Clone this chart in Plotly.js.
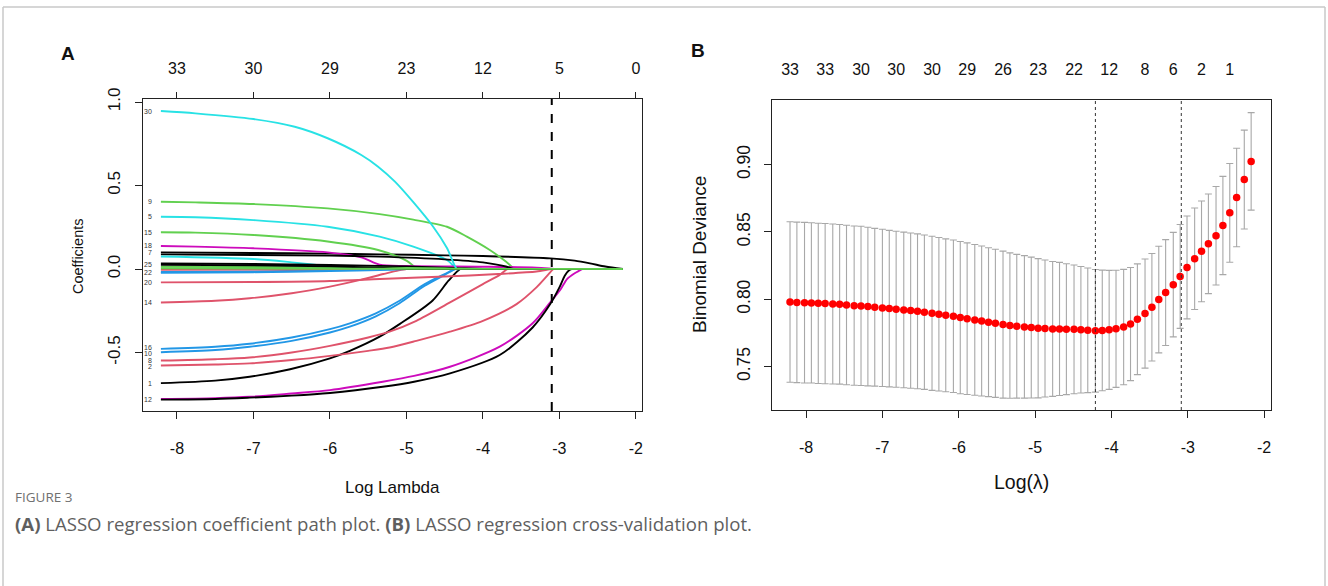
<!DOCTYPE html>
<html>
<head>
<meta charset="utf-8">
<script src="https://cdn.plot.ly/plotly-3.0.1.min.js"></script>
<style>
  html,body{margin:0;padding:0;background:#fff;}
  #chart{width:1328px;height:586px;}
</style>
</head>
<body>
<div id="chart"></div>
<script>
// ---------------- Panel A: LASSO coefficient paths ----------------
const topTicksA = [-8, -7, -6, -5, -4, -3, -2];
const topLabelsA = ["33", "30", "29", "23", "12", "5", "0"];
const lambda1se = -3.10;

// each path: log(lambda) positions and coefficient values
const p30x = [-8.21,-7.76,-7.0,-6.46,-6.03,-5.59,-5.37,-5.15,-4.91,-4.65,-4.47,-4.34,-4.30,-2.17];
const p30y = [0.946,0.932,0.898,0.852,0.783,0.683,0.613,0.523,0.40,0.253,0.126,0,0,0];
const p9x  = [-8.21,-7.76,-7.0,-6.03,-5.35,-4.91,-4.47,-4.21,-3.91,-3.70,-3.58,-3.54,-2.17];
const p9y  = [0.403,0.399,0.389,0.363,0.329,0.296,0.253,0.194,0.114,0.045,0,0,0];
const p5x  = [-8.21,-7.76,-7.0,-6.03,-5.35,-4.91,-4.47,-4.34,-4.30,-2.17];
const p5y  = [0.313,0.310,0.293,0.253,0.194,0.134,0.054,0,0,0];
const p15x = [-8.21,-7.76,-7.0,-6.03,-5.37,-5.0,-4.85,-4.81,-2.17];
const p15y = [0.220,0.218,0.204,0.165,0.114,0.05,0,0,0];
const p18x = [-8.21,-7.76,-7.0,-6.03,-5.59,-5.35,-5.0,-4.0,-3.3,-3.05,-3.01,-2.17];
const p18y = [0.138,0.134,0.124,0.100,0.070,0.026,0.018,0.014,0.008,0,0,0];
const p7x  = [-8.21,-7.0,-6.0,-5.35,-4.5,-4.0,-3.12,-2.8,-2.6,-2.4,-2.17];
const p7y  = [0.100,0.096,0.092,0.088,0.082,0.078,0.064,0.050,0.034,0.015,0];
const p19x = [-8.21,-7.0,-6.0,-5.35,-4.5,-4.0,-3.7,-3.6,-3.56,-2.17];
const p19y = [0.088,0.084,0.080,0.074,0.058,0.040,0.015,0,0,0];
const p23x = [-8.21,-7.0,-6.5,-6.0,-5.7,-5.66,-2.17];
const p23y = [0.075,0.060,0.040,0.015,0,0,0];
const p25x = [-8.21,-7.0,-6.0,-5.0,-4.3,-4.0,-3.96,-2.17];
const p25y = [0.034,0.030,0.024,0.015,0.005,0,0,0];
const p31x = [-8.21,-7.0,-6.0,-5.3,-5.0,-4.96,-2.17];
const p31y = [0.026,0.022,0.016,0.006,0,0,0];
const p27x = [-8.21,-6.0,-4.5,-4.2,-4.16,-2.17];
const p27y = [0.014,0.010,0.004,0,0,0];
const p26x = [-8.21,-6.5,-5.5,-5.46,-2.17];
const p26y = [-0.005,-0.003,0,0,0];
const p22x = [-8.21,-7.0,-6.0,-5.6,-5.56,-2.17];
const p22y = [-0.018,-0.014,-0.006,0,0,0];
const p28x = [-8.21,-7.0,-6.0,-5.2,-5.0,-4.96,-2.17];
const p28y = [-0.022,-0.019,-0.012,-0.004,0,0,0];
const p20x = [-8.21,-7.0,-6.0,-5.35,-4.5,-3.8,-3.3,-3.1,-3.06,-2.17];
const p20y = [-0.080,-0.078,-0.072,-0.060,-0.045,-0.030,-0.015,0,0,0];
const p14x = [-8.21,-7.5,-7.05,-6.5,-6.0,-5.6,-5.3,-5.1,-5.0,-4.96,-2.17];
const p14y = [-0.200,-0.190,-0.175,-0.145,-0.105,-0.065,-0.030,-0.008,0,0,0];
const p16x = [-8.21,-7.5,-7.05,-6.5,-6.0,-5.74,-5.4,-5.09,-4.76,-4.5,-4.36,-4.32,-2.17];
const p16y = [-0.478,-0.465,-0.447,-0.410,-0.360,-0.325,-0.265,-0.190,-0.090,-0.030,0,0,0];
const p10x = [-8.21,-7.5,-7.05,-6.5,-6.0,-5.74,-5.4,-5.09,-4.76,-4.5,-4.36,-4.32,-2.17];
const p10y = [-0.498,-0.485,-0.465,-0.430,-0.380,-0.345,-0.283,-0.205,-0.100,-0.035,0,0,0];
const p8x  = [-8.21,-7.5,-7.05,-6.5,-6.0,-5.5,-5.22,-4.87,-4.43,-4.0,-3.78,-3.68,-3.64,-2.17];
const p8y  = [-0.548,-0.540,-0.530,-0.500,-0.460,-0.410,-0.375,-0.310,-0.200,-0.090,-0.035,0,0,0];
const p2x  = [-8.21,-7.5,-7.05,-6.5,-6.0,-5.5,-5.22,-4.87,-4.43,-4.0,-3.56,-3.3,-3.12,-3.08,-3.04,-2.17];
const p2y  = [-0.578,-0.572,-0.565,-0.545,-0.520,-0.490,-0.470,-0.430,-0.375,-0.310,-0.210,-0.110,-0.020,0,0,0];
const p1x  = [-8.21,-7.5,-7.05,-6.52,-6.0,-5.74,-5.35,-5.09,-4.66,-4.45,-4.30,-4.26,-2.17];
const p1y  = [-0.683,-0.668,-0.645,-0.600,-0.535,-0.490,-0.405,-0.330,-0.190,-0.070,0,0,0];
const p12x = [-8.21,-7.5,-7.05,-6.5,-6.0,-5.31,-4.9,-4.43,-3.78,-3.35,-3.12,-2.99,-2.9,-2.8,-2.74,-2.70,-2.66,-2.17];
const p12y = [-0.778,-0.773,-0.765,-0.745,-0.725,-0.675,-0.640,-0.585,-0.465,-0.325,-0.200,-0.126,-0.060,-0.025,-0.010,0,0,0];
const p13x = [-8.21,-7.5,-7.05,-6.5,-6.0,-5.31,-4.9,-4.43,-3.78,-3.35,-3.12,-3.0,-2.93,-2.88,-2.84,-2.80,-2.17];
const p13y = [-0.782,-0.778,-0.770,-0.758,-0.742,-0.705,-0.675,-0.625,-0.515,-0.350,-0.210,-0.110,-0.040,-0.010,0,0,0];
const p33x = [-8.21,-6.0,-4.0,-2.17];
const p33y = [0.004,0.002,0.001,0];

// path labels (variable index) shown at the left edge
const pathLabelText = ["30","9","5","15","18","7","25","22","20","14","16","10","8","2","1","12"];
const pathLabelY    = [0.946,0.403,0.313,0.220,0.138,0.096,0.030,-0.018,-0.080,-0.200,-0.470,-0.504,-0.545,-0.581,-0.683,-0.780];

// ---------------- Panel B: cross-validation curve ----------------
const cvLogLambda = [-8.21,-8.12,-8.02,-7.93,-7.84,-7.75,-7.65,-7.56,-7.47,-7.37,
  -7.28,-7.19,-7.10,-7.00,-6.91,-6.82,-6.72,-6.63,-6.54,-6.45,
  -6.35,-6.26,-6.17,-6.07,-5.98,-5.89,-5.79,-5.70,-5.61,-5.52,
  -5.42,-5.33,-5.24,-5.14,-5.05,-4.96,-4.87,-4.77,-4.68,-4.59,
  -4.49,-4.40,-4.31,-4.21,-4.12,-4.03,-3.94,-3.84,-3.75,-3.66,
  -3.56,-3.47,-3.38,-3.29,-3.19,-3.10,-3.01,-2.91,-2.82,-2.73,
  -2.63,-2.54,-2.45,-2.36,-2.26,-2.17];
const cvMean = [0.7980,0.7977,0.7975,0.7973,0.7970,0.7968,0.7965,0.7963,0.7958,0.7953,
  0.7951,0.7946,0.7941,0.7936,0.7931,0.7926,0.7921,0.7916,0.7911,0.7904,
  0.7896,0.7889,0.7881,0.7874,0.7864,0.7856,0.7847,0.7839,0.7830,0.7822,
  0.7812,0.7805,0.7800,0.7795,0.7790,0.7785,0.7783,0.7780,0.7780,0.7778,
  0.7777,0.7774,0.7770,0.7766,0.7769,0.7773,0.7781,0.7794,0.7816,0.7852,
  0.7894,0.7941,0.7998,0.8050,0.8109,0.8170,0.8237,0.8301,0.8356,0.8412,
  0.8472,0.8548,0.8642,0.8756,0.8889,0.9024];
const cvSd = [0.0596,0.0596,0.0596,0.0595,0.0595,0.0595,0.0594,0.0593,0.0592,0.0591,
  0.0591,0.0589,0.0586,0.0584,0.0581,0.0579,0.0578,0.0576,0.0575,0.0573,
  0.0572,0.0570,0.0568,0.0566,0.0565,0.0563,0.0560,0.0557,0.0553,0.0550,
  0.0546,0.0540,0.0534,0.0529,0.0523,0.0517,0.0509,0.0501,0.0494,0.0486,
  0.0478,0.0470,0.0463,0.0455,0.0448,0.0442,0.0435,0.0428,0.0420,0.0411,
  0.0405,0.0399,0.0396,0.0393,0.0388,0.0386,0.0382,0.0377,0.0374,0.0370,
  0.0366,0.0365,0.0367,0.0366,0.0367,0.0362];
const lambdaMinB = -4.21;
const lambda1seB = -3.085;
const topLabelPosB = [-8.21,-7.75,-7.28,-6.82,-6.35,-5.89,-5.42,-4.96,-4.49,-4.03,-3.56,-3.19,-2.82,-2.45];
const topLabelsB = ["33","33","30","30","30","29","26","23","22","12","8","6","2","1"];

// ---------------- drawing ----------------
const W = 1328, H = 586;
const px = x => x / W;
const py = y => 1 - y / H;

const COL = {black:"#000000", red:"#DF536B", green:"#61D04F", blue:"#2297E6", cyan:"#28E2E5", magenta:"#CD0BBC"};

const paths = [
  [p1x,p1y,COL.black],[p2x,p2y,COL.red],[p5x,p5y,COL.cyan],[p7x,p7y,COL.black],
  [p8x,p8y,COL.red],[p9x,p9y,COL.green],[p10x,p10y,COL.blue],[p12x,p12y,COL.magenta],
  [p13x,p13y,COL.black],[p14x,p14y,COL.red],[p15x,p15y,COL.green],[p16x,p16y,COL.blue],
  [p18x,p18y,COL.magenta],[p19x,p19y,COL.black],[p20x,p20y,COL.red],[p22x,p22y,COL.blue],
  [p23x,p23y,COL.cyan],[p25x,p25y,COL.black],[p26x,p26y,COL.red],[p27x,p27y,COL.green],
  [p28x,p28y,COL.blue],[p30x,p30y,COL.cyan],[p31x,p31y,COL.black],[p33x,p33y,COL.green]
];

const traces = paths.map(p => ({
  type:"scatter", mode:"lines", x:p[0], y:p[1], xaxis:"x", yaxis:"y",
  line:{color:p[2], width:1.9, shape:"spline", smoothing:0.8},
  hoverinfo:"skip", showlegend:false
}));

// helper traces to materialise the top axes
traces.push({type:"scatter", mode:"markers", x:[-5], y:[0], xaxis:"x2", yaxis:"y",
  marker:{opacity:0}, hoverinfo:"skip", showlegend:false});

traces.push({
  type:"scatter", mode:"markers", x:cvLogLambda, y:cvMean, xaxis:"x3", yaxis:"y2",
  marker:{color:"#FF0000", size:7.5},
  error_y:{type:"data", array:cvSd, visible:true, color:"#a8a8a8", thickness:1.1, width:3.5},
  hoverinfo:"skip", showlegend:false
});
traces.push({type:"scatter", mode:"markers", x:[-5], y:[0.8], xaxis:"x4", yaxis:"y2",
  marker:{opacity:0}, hoverinfo:"skip", showlegend:false});

const FONT = "Liberation Sans, Arial, sans-serif";
const tickFont = {family:FONT, size:16, color:"#111"};

const baseAxis = {
  showgrid:false, zeroline:false, showline:true, mirror:true,
  linecolor:"#222", linewidth:1.2, ticks:"outside", tickcolor:"#222",
  ticklen:7, tickwidth:1, tickfont:tickFont
};

const annotations = [];
pathLabelText.forEach((t,i) => annotations.push({
  xref:"x", yref:"y", x:-8.30, y:pathLabelY[i], text:t, showarrow:false,
  xanchor:"right", yanchor:"middle", font:{family:FONT, size:7, color:"#333"}
}));

const paperText = (x,y,text,size,extra) => Object.assign({
  xref:"paper", yref:"paper", x:px(x), y:py(y), text:text, showarrow:false,
  xanchor:"center", yanchor:"middle", font:{family:FONT, size:size, color:"#111"}
}, extra||{});

annotations.push(paperText(68,53,"<b>A</b>",19));
annotations.push(paperText(698,51,"<b>B</b>",19));
annotations.push(paperText(78,256,"Coefficients",14.5,{textangle:-90}));
annotations.push(paperText(392,487,"Log Lambda",17));
annotations.push(paperText(700,255,"Binomial Deviance",19,{textangle:-90}));
annotations.push(paperText(1021,482,"Log(\u03bb)",19.5));
annotations.push({xref:"paper", yref:"paper", x:px(13), y:py(497), xanchor:"left", yanchor:"middle",
  text:"FIGURE 3", showarrow:false, font:{family:"Open Sans, sans-serif", size:13.5, color:"#707070"}});
annotations.push({xref:"paper", yref:"paper", x:px(13), y:py(523), xanchor:"left", yanchor:"middle",
  text:"<b>(A)</b> LASSO regression coefficient path plot. <b>(B)</b> LASSO regression cross-validation plot.",
  showarrow:false, font:{family:"Open Sans, sans-serif", size:18.6, color:"#5f5f5f"}});

const layout = {
  width:W, height:H, margin:{l:0,r:0,t:0,b:0},
  paper_bgcolor:"#fff", plot_bgcolor:"#fff", showlegend:false,
  xaxis: Object.assign({}, baseAxis, {domain:[px(143),px(642)], range:[-8.444,-1.92], anchor:"y",
    tickvals:topTicksA, ticktext:topTicksA.map(v=>String(v)), ticklabelstandoff:16}),
  xaxis2: Object.assign({}, baseAxis, {overlaying:"x", side:"top", anchor:"y", range:[-8.444,-1.92],
    tickvals:topTicksA, ticktext:topLabelsA, showline:false, ticklen:6, ticklabelstandoff:12}),
  yaxis: Object.assign({}, baseAxis, {domain:[py(411),py(99)], range:[-0.850,1.018], anchor:"x",
    tickvals:[-0.5,0,0.5,1.0], ticktext:["-0.5","0.0","0.5","1.0"], tickangle:-90, ticklabelstandoff:8,
    tickfont:{family:FONT, size:17, color:"#111"}}),
  xaxis3: Object.assign({}, baseAxis, {domain:[px(772),px(1271)], range:[-8.446,-1.91], anchor:"y2",
    tickvals:topTicksA, ticktext:topTicksA.map(v=>String(v)), ticklabelstandoff:16}),
  xaxis4: Object.assign({}, baseAxis, {overlaying:"x3", side:"top", anchor:"y2", range:[-8.446,-1.91],
    tickvals:topLabelPosB, ticktext:topLabelsB, showline:false, ticks:"", ticklabelstandoff:21}),
  yaxis2: Object.assign({}, baseAxis, {domain:[py(410),py(100)], range:[0.7178,0.948], anchor:"x3",
    tickvals:[0.75,0.80,0.85,0.90], ticktext:["0.75","0.80","0.85","0.90"], tickangle:-90, ticklabelstandoff:7,
    tickfont:{family:FONT, size:17.5, color:"#111"}}),
  shapes:[
    {type:"line", xref:"x", yref:"y domain", x0:lambda1se, x1:lambda1se, y0:0, y1:1,
      line:{color:"#000", width:2, dash:"dash"}},
    {type:"line", xref:"x3", yref:"y2 domain", x0:lambdaMinB, x1:lambdaMinB, y0:0, y1:1,
      line:{color:"#333", width:1, dash:"dot"}},
    {type:"line", xref:"x3", yref:"y2 domain", x0:lambda1seB, x1:lambda1seB, y0:0, y1:1,
      line:{color:"#333", width:1, dash:"dot"}},
    {type:"line", xref:"paper", yref:"paper", x0:px(3), x1:px(1325), y0:py(7), y1:py(7),
      line:{color:"#c8c8c8", width:1.5}},
    {type:"line", xref:"paper", yref:"paper", x0:px(3), x1:px(3), y0:py(7), y1:0,
      line:{color:"#c8c8c8", width:1.5}},
    {type:"line", xref:"paper", yref:"paper", x0:px(1325), x1:px(1325), y0:py(7), y1:0,
      line:{color:"#c8c8c8", width:1.5}}
  ],
  annotations:annotations
};

Plotly.newPlot("chart", traces, layout, {staticPlot:true, displayModeBar:false});
</script>
</body>
</html>
